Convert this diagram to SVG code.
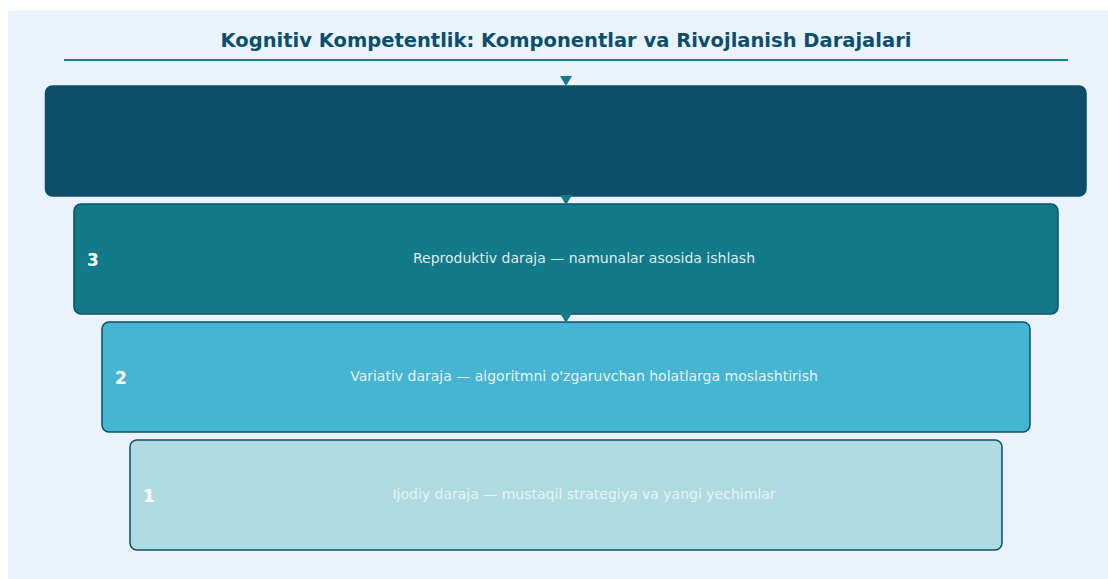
<svg xmlns="http://www.w3.org/2000/svg" width="1108" height="579" viewBox="0 0 1108 579">
<style>
.title{font-family:"DejaVu Sans",sans-serif;font-size:19.5px;font-weight:bold;fill:#0d4f6b}
.lbl{font-family:"DejaVu Sans",sans-serif;font-size:14px;fill:#ffffff;fill-opacity:0.88}
.num{font-family:"DejaVu Sans",sans-serif;font-size:17px;font-weight:bold;fill:#ffffff}
.box{stroke:#0d4f6b;stroke-width:1.5}
.arr{fill:#137a8a}
</style>
<rect x="0" y="0" width="1108" height="579" fill="#ffffff"/>
<rect x="8" y="10" width="1100" height="569" fill="#eaf3fb"/>
<text class="title" x="566" y="47" text-anchor="middle">Kognitiv Kompetentlik: Komponentlar va Rivojlanish Darajalari</text>
<line x1="64" y1="60" x2="1068" y2="60" stroke="#1a7f8a" stroke-width="1.8"/>
<g id="top">
<rect class="box" x="45.5" y="86" width="1040.5" height="110" rx="7" fill="#0d4f6b"/>
</g>
<g id="level3">
<rect class="box" x="74" y="204" width="984" height="110" rx="7" fill="#137a8a"/>
<text class="num" x="93" y="266" text-anchor="middle">3</text>
<text class="lbl" x="584" y="263" text-anchor="middle">Reproduktiv daraja — namunalar asosida ishlash</text>
</g>
<g id="level2">
<rect class="box" x="102" y="322" width="928" height="110" rx="7" fill="#46b5d1"/>
<text class="num" x="121" y="384" text-anchor="middle">2</text>
<text class="lbl" x="584" y="381" text-anchor="middle">Variativ daraja — algoritmni o'zgaruvchan holatlarga moslashtirish</text>
</g>
<g id="level1">
<rect class="box" x="130" y="440" width="872" height="110" rx="7" fill="#b0dae1"/>
<text class="num" x="149" y="502" text-anchor="middle">1</text>
<text class="lbl" x="584" y="499" text-anchor="middle" fill-opacity="0.7" style="fill-opacity:0.7">Ijodiy daraja — mustaqil strategiya va yangi yechimlar</text>
</g>
<g id="connectors">
<polygon class="arr" points="560,76 572,76 566,86"/>
<polygon class="arr" points="560,195 572,195 566,205"/>
<polygon class="arr" points="560,313 572,313 566,323"/>
</g>
</svg>
